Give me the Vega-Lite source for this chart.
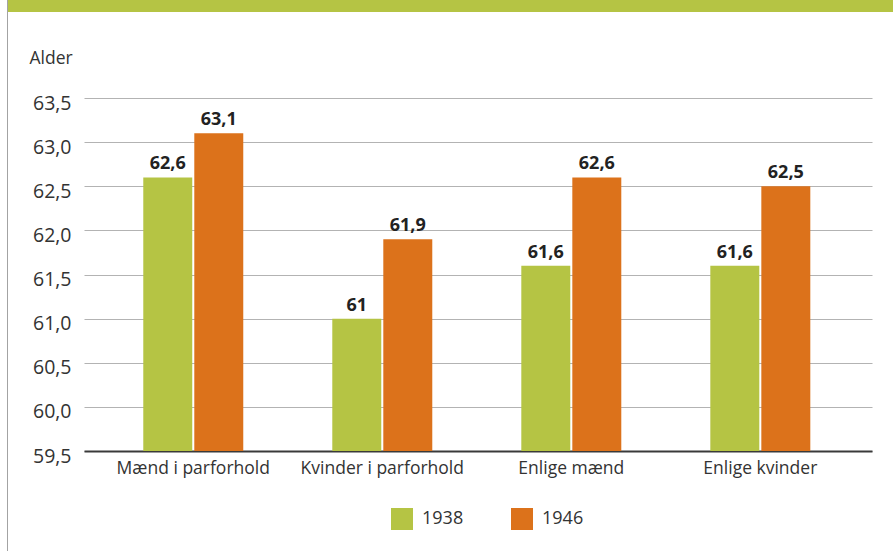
{
  "$schema": "https://vega.github.io/schema/vega-lite/v6.json",
  "padding": {"left": 7, "top": 0, "right": 0, "bottom": 0},
  "background": "white",
  "config": {
    "font": "Open Sans",
    "view": {"stroke": null},
    "locale": {"number": {"decimal": ",", "thousands": ".", "grouping": [3], "currency": ["", " kr."]}}
  },
  "spacing": 0,
  "bounds": "flush",
  "hconcat": [
    {
      "width": 1,
      "height": 551,
      "view": {"fill": "#a3a3a3", "stroke": null},
      "data": {"values": []},
      "mark": "rule",
      "encoding": {}
    },
    {
      "spacing": 86,
      "bounds": "flush",
      "vconcat": [
        {
          "width": 885,
          "height": 12,
          "view": {"fill": "#b5c444", "stroke": null},
          "data": {"values": []},
          "mark": "rule",
          "encoding": {}
        },
        {
          "spacing": 0,
          "bounds": "flush",
          "hconcat": [
            {
              "width": 76,
              "height": 353,
              "data": {"values": []},
              "mark": "rule",
              "encoding": {}
            },
            {
              "width": 788,
              "height": 353,
              "data": {
                "values": [
                  {"group": "Mænd i parforhold", "year": "1938", "value": 62.6},
                  {"group": "Mænd i parforhold", "year": "1946", "value": 63.1},
                  {"group": "Kvinder i parforhold", "year": "1938", "value": 61},
                  {"group": "Kvinder i parforhold", "year": "1946", "value": 61.9},
                  {"group": "Enlige mænd", "year": "1938", "value": 61.6},
                  {"group": "Enlige mænd", "year": "1946", "value": 62.6},
                  {"group": "Enlige kvinder", "year": "1938", "value": 61.6},
                  {"group": "Enlige kvinder", "year": "1946", "value": 62.5}
                ]
              },
              "encoding": {
                "x": {
                  "field": "group",
                  "type": "nominal",
                  "sort": ["Mænd i parforhold", "Kvinder i parforhold", "Enlige mænd", "Enlige kvinder"],
                  "scale": {"paddingInner": 0.471, "paddingOuter": 0.32, "align": 0.49},
                  "axis": {
                    "title": null,
                    "labelAngle": 0,
                    "labelFontSize": 17.5,
                    "labelColor": "#333333",
                    "labelPadding": 8,
                    "ticks": false,
                    "domainColor": "#3a3a3a",
                    "domainWidth": 2,
                    "grid": false
                  }
                },
                "xOffset": {
                  "field": "year",
                  "type": "nominal",
                  "scale": {"paddingInner": 0.04}
                },
                "y": {
                  "field": "value",
                  "type": "quantitative",
                  "scale": {"domain": [59.5, 63.5], "nice": false, "zero": false},
                  "axis": {
                    "title": "Alder",
                    "titleAngle": 0,
                    "titleAlign": "left",
                    "titleBaseline": "alphabetic",
                    "titleX": -55,
                    "titleY": -35,
                    "titleFontSize": 17.5,
                    "titleFontWeight": "normal",
                    "titleColor": "#333333",
                    "values": [59.5, 60, 60.5, 61, 61.5, 62, 62.5, 63, 63.5],
                    "format": ".1f",
                    "labelFontSize": 19.5,
                    "labelColor": "#333333",
                    "labelPadding": 13,
                    "labelOffset": 5,
                    "ticks": false,
                    "domain": false,
                    "gridColor": "#b3b3b3",
                    "gridWidth": 1
                  }
                }
              },
              "layer": [
                {
                  "mark": {"type": "bar"},
                  "encoding": {
                    "y2": {"datum": 59.5},
                    "color": {
                      "field": "year",
                      "type": "nominal",
                      "scale": {"domain": ["1938", "1946"], "range": ["#b5c444", "#dc721b"]},
                      "legend": {
                        "title": null,
                        "orient": "none",
                        "direction": "horizontal",
                        "legendX": 384,
                        "legendY": 508,
                        "symbolType": "square",
                        "symbolSize": 484,
                        "symbolStrokeWidth": 0,
                        "labelFontSize": 18,
                        "labelColor": "#333333",
                        "labelOffset": 9,
                        "columnPadding": 47
                      }
                    }
                  }
                },
                {
                  "mark": {"type": "text", "baseline": "bottom", "dy": -4, "fontWeight": "bold", "fontSize": 18, "color": "#222222"},
                  "encoding": {
                    "text": {"field": "value", "type": "quantitative", "format": "~g"}
                  }
                }
              ]
            }
          ]
        }
      ]
    }
  ]
}
